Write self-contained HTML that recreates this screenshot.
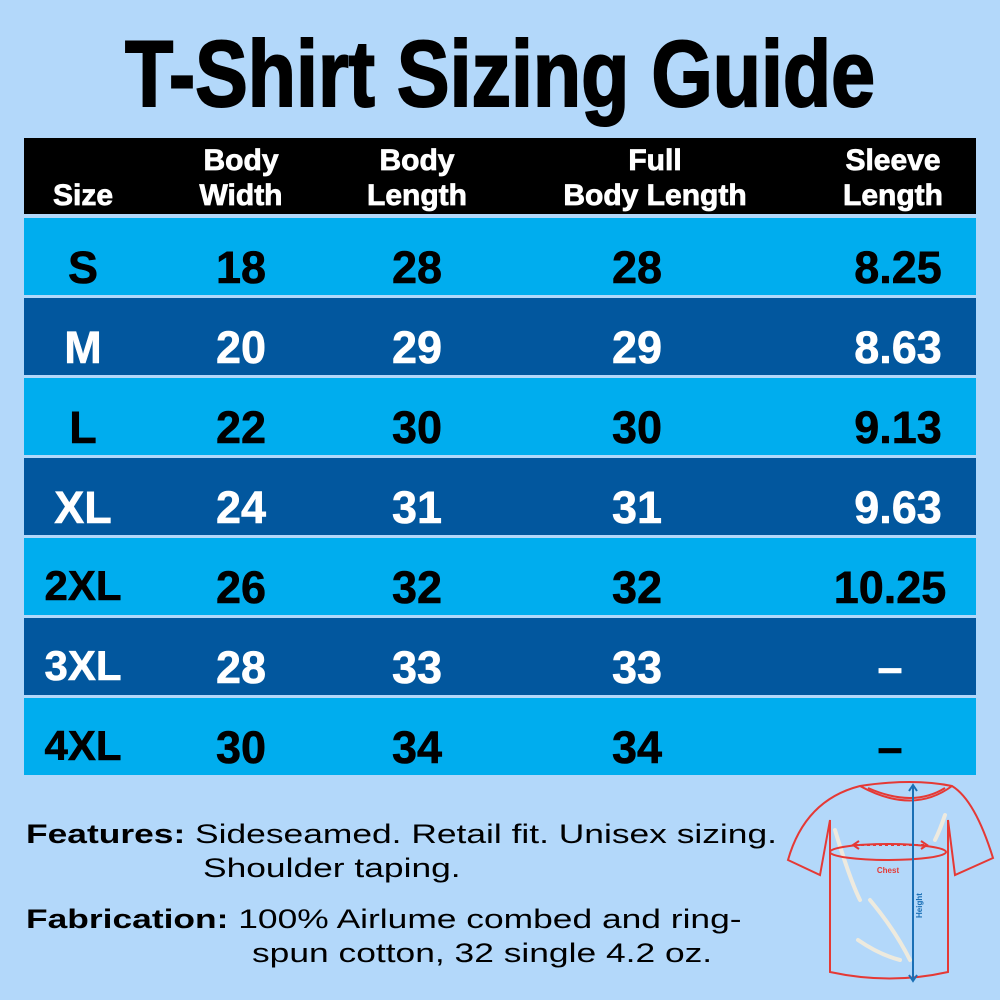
<!DOCTYPE html>
<html><head><meta charset="utf-8"><style>
body{margin:0;width:1000px;height:1000px;background:#b3d8fa;position:relative;overflow:hidden;font-family:"Liberation Sans",sans-serif}
.t{position:absolute;left:0;top:20px;width:1000px;text-align:center;font-weight:bold;font-size:94px;transform:scaleX(0.84);color:#000;-webkit-text-stroke:2px #000}
.row{position:absolute;left:24px;width:952px;height:76px}
.c{position:absolute;font-weight:bold;font-size:45px;transform:translateX(-50%);white-space:nowrap;-webkit-text-stroke:0.6px currentColor}
.h{position:absolute;font-weight:bold;font-size:30px;color:#fff;text-align:center;line-height:35px;transform:translateX(-50%);white-space:nowrap;-webkit-text-stroke:0.8px #fff}
.f{position:absolute;font-size:27px;color:#000;line-height:34px;white-space:nowrap;transform-origin:0 0;transform:scaleX(1.31)}
</style></head><body>
<div class="t">T-Shirt Sizing Guide</div>
<div class="row" style="top:138px;background:#000"></div>
<div class="h" style="left:83px;top:178px">Size</div>
<div class="h" style="left:241px;top:143px">Body<br>Width</div>
<div class="h" style="left:417px;top:143px">Body<br>Length</div>
<div class="h" style="left:655px;top:143px">Full<br>Body Length</div>
<div class="h" style="left:893px;top:143px">Sleeve<br>Length</div>
<div id="rows"></div>
<script>
var d=[["S","18","28","28","8.25"],["M","20","29","29","8.63"],["L","22","30","30","9.13"],["XL","24","31","31","9.63"],["2XL","26","32","32","10.25"],["3XL","28","33","33","–"],["4XL","30","34","34","–"]];
var h="";d.forEach(function(r,i){var top=218+i*80,light=i%2==0;
h+='<div class="row" style="top:'+top+'px;height:77px;background:'+(light?'#00adee':'#02579e')+'"></div>';
var xs=[83,241,417,637,r[4]=="–"?890:(r[4].length>4?890:898)];var col=light?'#000':'#fff';
r.forEach(function(v,j){var fs=(j==0&&v.length==3)?'font-size:42px;':'';h+='<div class="c" style="'+fs+'left:'+xs[j]+'px;top:'+(top+24)+'px;color:'+col+'">'+v+'</div>';});});
document.getElementById("rows").innerHTML=h;
</script>
<div class="f" style="left:26px;top:817px"><b>Features:</b> Sideseamed. Retail fit. Unisex sizing.</div>
<div class="f" style="left:203px;top:851px">Shoulder taping.</div>
<div class="f" style="left:26px;top:902px"><b>Fabrication:</b> 100% Airlume combed and ring-</div>
<div class="f" style="left:252px;top:936px">spun cotton, 32 single 4.2 oz.</div>
<svg style="position:absolute;left:0;top:0" width="1000" height="1000">
<g fill="none" stroke="#f4ecdc" stroke-width="4" stroke-linecap="round" opacity="0.9">
<path d="M835 830 Q850 880 860 900"/><path d="M870 900 Q895 930 910 960"/><path d="M858 940 Q880 955 900 960"/><path d="M945 815 Q940 830 935 840"/>
</g>
<g fill="none" stroke="#e53935" stroke-width="2">
<path d="M860 786 Q913 778 952 786 Q975 800 993 858 L955 875 L948 820 L948 972 Q890 985 830 972 L830 820 L820 875 L788 860 Q805 800 860 786Z"/>
<path d="M860 786 Q913 815 952 786"/>
<path d="M868 788 Q913 808 945 788"/>
<ellipse cx="888" cy="852" rx="58" ry="8"/>
<path d="M855 845 L925 845" stroke-dasharray="3 3"/>
<path d="M859 841 L853 845 L859 849 M921 841 L927 845 L921 849"/>
</g>
<g stroke="#1a6fb5" stroke-width="2" fill="none"><line x1="913" y1="786" x2="913" y2="980"/><path d="M909 791 L913 785 L917 791 M909 975 L913 981 L917 975"/></g>
<text x="888" y="873" font-size="8" fill="#e53935" font-family="Liberation Sans" font-weight="bold" text-anchor="middle">Chest</text>
<text x="0" y="0" font-size="8" fill="#1a6fb5" font-family="Liberation Sans" font-weight="bold" transform="translate(922,918) rotate(-90)">Height</text>
</svg>
</body></html>
